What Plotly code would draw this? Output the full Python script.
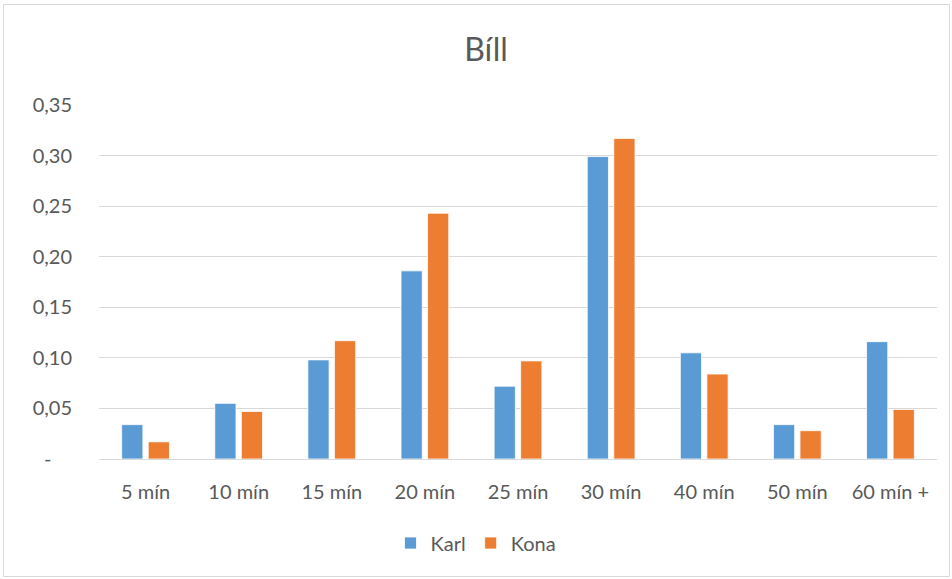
import plotly.graph_objects as go

categories = ["5 mín", "10 mín", "15 mín", "20 mín", "25 mín", "30 mín", "40 mín", "50 mín", "60 mín +"]
karl = [0.034, 0.055, 0.098, 0.186, 0.072, 0.299, 0.105, 0.034, 0.116]
kona = [0.017, 0.047, 0.117, 0.243, 0.097, 0.317, 0.084, 0.028, 0.049]

tick_vals = [0, 0.05, 0.10, 0.15, 0.20, 0.25, 0.30, 0.35]
tick_text = ["-\u00a0\u00a0\u00a0\u00a0", "0,05", "0,10", "0,15", "0,20", "0,25", "0,30", "0,35"]

FONT = "Lato, Carlito, 'Open Sans', sans-serif"
TXT = "#595959"

fig = go.Figure()
fig.add_trace(go.Bar(name="Karl", x=categories, y=karl,
                     marker=dict(color="#5B9BD5", line=dict(color="#FFFFFF", width=0.8))))
fig.add_trace(go.Bar(name="Kona", x=categories, y=kona,
                     marker=dict(color="#ED7D31", line=dict(color="#FFFFFF", width=0.8))))

W, H = 952, 579
L, R, T, B = 99, 15, 105, 120
pw, ph = W - L - R, H - T - B

def px_x(x):
    return (x - L) / pw

def px_y(y):
    return (H - B - y) / ph

fig.update_layout(
    width=W, height=H,
    margin=dict(l=L, r=R, t=T, b=B),
    paper_bgcolor="white", plot_bgcolor="white",
    barmode="group", bargap=0.43, bargroupgap=0.2,
    font=dict(family=FONT, size=20, color=TXT),
    title=dict(text="Bíll", x=486 / W, xanchor="center", y=1 - 50 / H, yanchor="middle",
               font=dict(family=FONT, size=32, color=TXT)),
    legend=dict(orientation="h", x=0.5, xanchor="center", xref="container",
                y=1 - 543 / H, yref="container", yanchor="middle",
                font=dict(family=FONT, size=20, color=TXT), itemwidth=30, traceorder="normal"),
    xaxis=dict(showgrid=False, showline=True, linecolor="#D9D9D9", linewidth=1,
               ticks="", ticklabelstandoff=15, tickfont=dict(size=20, color=TXT)),
    yaxis=dict(range=[0, 0.35], tickvals=tick_vals, ticktext=tick_text,
               showgrid=True, gridcolor="#D9D9D9", gridwidth=1, zeroline=False,
               showline=False, ticks="", ticklabelstandoff=26,
               tickfont=dict(size=20, color=TXT)),
    shapes=[dict(type="rect", xref="paper", yref="paper",
                 x0=px_x(3.5), x1=px_x(949.5), y0=px_y(576.5), y1=px_y(4.5),
                 line=dict(color="#D9D9D9", width=1), fillcolor="rgba(0,0,0,0)", layer="below")],
)

fig.write_html("out.html")
